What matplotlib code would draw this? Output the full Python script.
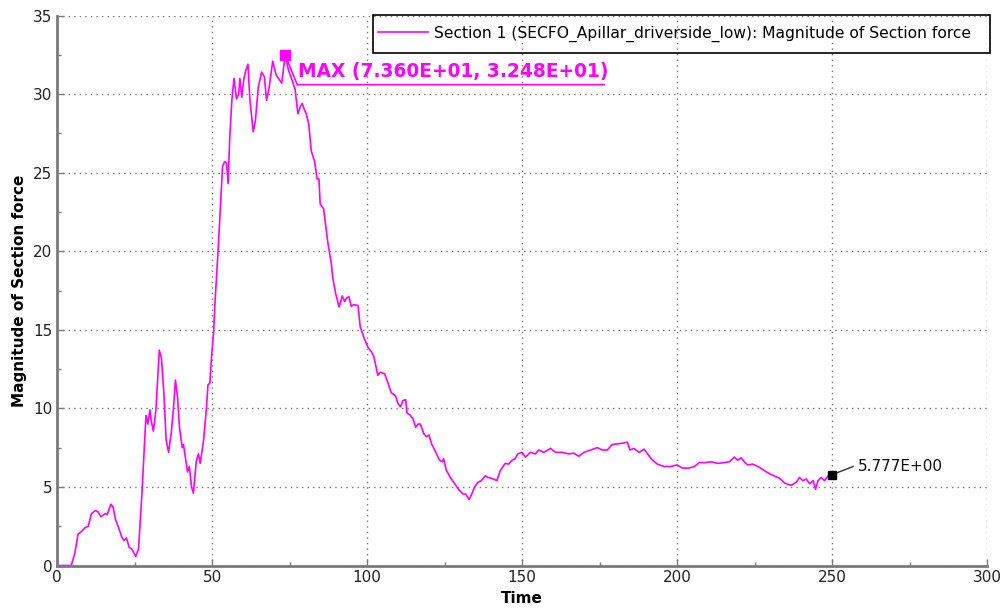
import matplotlib
matplotlib.use("Agg")
import matplotlib.pyplot as plt
from matplotlib.patches import Rectangle
from matplotlib.ticker import MultipleLocator

time = [0, 4.6, 5.7, 6.8, 8.1, 9.0, 10.1, 11.1, 12.4, 13.3, 14.2, 15.5, 16.2, 17.4, 18.1, 18.9,
        19.8, 20.9, 21.6, 22.4, 23.3, 24.1, 25.4, 26.3, 27.4, 28.7, 29.3, 30.0, 30.4, 31.1,
        31.9, 33.0, 33.7, 34.5, 35.2, 36.0, 36.9, 37.6, 38.2, 38.9, 39.5, 40.4, 40.8, 41.7,
        42.1, 42.7, 43.4, 44.0, 44.9, 45.6, 46.2, 47.3, 48.2, 48.7, 49.3, 49.9, 50.5, 50.9,
        51.9, 52.5, 53.4, 54.1, 54.7, 55.2, 55.7, 56.4, 57.1, 57.9, 58.6, 59.0, 59.6, 60.3,
        60.9, 61.6, 62.2, 63.3, 64.0, 64.9, 66.0, 66.9, 67.6, 68.5, 69.6, 70.7, 71.8, 72.5,
        73.6, 74.7, 75.8, 76.8, 77.7, 78.5, 79.1, 79.8, 80.4, 81.2, 82.0, 83.1, 83.9, 84.5,
        84.9, 86.0, 87.4, 88.5, 89.0, 89.9, 91.0, 91.4, 92.0, 92.8, 93.3, 94.2, 94.9, 95.7,
        97.1, 97.8, 99.2, 100.3, 101.4, 102.2, 103.5, 104.3, 105.7, 106.8, 107.8, 109.2,
        110.0, 110.8, 111.6, 112.5, 112.9, 113.8, 114.8, 115.7, 116.5, 117.2, 118.3, 119.1,
        120.0, 120.8, 122.2, 123.4, 124.3, 124.7, 125.6, 126.9, 128.3, 129.7, 131.0, 131.8,
        132.9, 133.7, 134.7, 135.8, 136.9, 138.1, 139.2, 140.8, 141.9, 143.0, 144.6, 145.7,
        146.8, 147.8, 148.6, 150.0, 151.1, 152.7, 154.3, 155.4, 157.0, 159.2, 160.8, 162.9,
        165.1, 166.7, 168.3, 170.0, 172.1, 174.3, 175.9, 177.5, 179.1, 181.3, 182.9, 184.0,
        184.8, 186.1, 187.8, 189.4, 190.5, 192.1, 193.7, 195.8, 198.0, 200.0, 201.8, 203.9,
        205.6, 207.2, 209.3, 211.0, 213.1, 215.3, 216.9, 218.5, 219.6, 220.7, 221.7, 222.8,
        224.4, 226.1, 227.7, 229.3, 231.4, 233.1, 234.7, 236.8, 238.5, 239.5, 240.6, 241.7,
        242.8, 243.9, 244.7, 245.5, 246.5, 247.6, 248.7, 250.0]
force = [0, 0, 0.74, 2.0, 2.2, 2.4, 2.5, 3.3, 3.5, 3.4, 3.1, 3.3, 3.25, 3.9, 3.7, 2.9,
         2.45, 1.8, 1.6, 1.75, 1.15, 1.05, 0.57, 1.05, 4.6, 9.55, 9.0, 9.9, 9.2, 8.55,
         9.9, 13.7, 13.2, 10.9, 8.0, 7.2, 8.5, 10.1, 11.8, 10.7, 8.8, 7.5, 7.7, 6.5,
         5.95, 6.3, 5.0, 4.6, 6.6, 7.1, 6.5, 8.0, 10.0, 11.5, 11.6, 13.4, 14.8, 16.5,
         19.85, 22.0, 25.4, 25.7, 25.6, 24.3, 27.1, 29.6, 31.0, 29.7, 30.0, 31.0, 29.8, 31.0,
         31.5, 31.9, 29.7, 27.6, 28.3, 30.4, 31.4, 31.1, 29.6, 30.5, 32.1, 31.2, 30.9, 30.7,
         32.48, 31.5, 30.9, 30.3, 28.75, 29.2, 29.4, 29.0, 28.75, 28.1, 26.4, 25.7, 24.6, 24.6,
         23.0, 22.7, 20.5, 19.2, 18.25, 17.3, 16.45, 16.7, 17.15, 16.8, 17.0, 17.1, 16.5, 16.6,
         16.55, 15.2, 14.4, 13.9, 13.6, 13.3, 12.1, 12.3, 12.2, 11.6, 11.0, 10.8,
         10.3, 10.1, 10.5, 10.55, 9.7, 9.6, 9.35, 8.8, 9.0, 9.0, 8.4, 8.2,
         8.3, 7.75, 7.2, 6.7, 6.6, 6.8, 6.05, 5.6, 5.2, 4.8, 4.55, 4.55,
         4.2, 4.5, 5.0, 5.3, 5.4, 5.7, 5.6, 5.5, 5.4, 6.05, 6.5, 6.45,
         6.7, 6.8, 7.1, 7.2, 6.9, 7.2, 7.1, 7.35, 7.2, 7.45, 7.2, 7.2,
         7.1, 7.15, 6.95, 7.2, 7.35, 7.5, 7.35, 7.35, 7.7, 7.75, 7.8, 7.85,
         7.35, 7.45, 7.2, 7.4, 7.1, 6.7, 6.45, 6.3, 6.3, 6.4, 6.2, 6.2,
         6.3, 6.55, 6.55, 6.6, 6.5, 6.55, 6.6, 6.9, 6.7, 6.85, 6.6, 6.4,
         6.45, 6.3, 6.1, 5.9, 5.7, 5.55, 5.25, 5.1, 5.3, 5.6, 5.4, 5.5,
         5.2, 5.4, 4.85, 5.4, 5.6, 5.4, 5.7, 5.777]

max_point = (73.6, 32.48)
max_label = "MAX (7.360E+01, 3.248E+01)"
last_point = (250.0, 5.777)
last_label = "5.777E+00"
legend_label = "Section 1 (SECFO_Apillar_driverside_low): Magnitude of Section force"
x_label = "Time"
y_label = "Magnitude of Section force"

plt.rcParams['font.family'] = ['DejaVu Sans']
W, H = 1006, 610
fig = plt.figure(figsize=(W / 100, H / 100), dpi=100)
ax = fig.add_axes([57 / W, 44.5 / H, 930 / W, 550 / H])

mag = "#ff00ff"
ax.plot(time, force, color=mag, lw=1.2, label=legend_label)
ax.set_xlim(0, 300)
ax.set_ylim(0, 35)
ax.xaxis.set_major_locator(MultipleLocator(50))
ax.xaxis.set_minor_locator(MultipleLocator(25))
ax.yaxis.set_major_locator(MultipleLocator(5))
ax.yaxis.set_minor_locator(MultipleLocator(2.5))
ax.grid(True, which='major', linestyle=(0, (1, 3)), color='#777777', lw=1.0)
ax.set_axisbelow(True)
for s in ['top', 'right']:
    ax.spines[s].set_visible(False)
for s in ['left', 'bottom']:
    ax.spines[s].set_color('#7a7a7a')
    ax.spines[s].set_linewidth(2)
ax.tick_params(which='both', direction='in', colors='#7a7a7a', labelcolor='#222222',
               labelsize=11)
ax.tick_params(which='major', length=5, width=1)
ax.tick_params(which='minor', length=3, width=1)
ax.set_xlabel(x_label, fontweight='bold', fontsize=11, labelpad=4)
ax.set_ylabel(y_label, fontweight='bold', fontsize=11, labelpad=4)

# MAX annotation
ax.plot([max_point[0]], [max_point[1]], marker='s', color=mag, ms=7, zorder=5)
ax.plot([max_point[0], 77.5, 176.5], [max_point[1], 30.6, 30.6], color=mag, lw=1.2)
ax.text(77.8, 30.8, max_label, color=mag, fontsize=13.4, fontweight='bold',
        ha='left', va='bottom')

# last point annotation
ax.plot([last_point[0]], [last_point[1]], marker='s', color='black', ms=6, zorder=5)
ax.plot([last_point[0], 256.8], [last_point[1], 6.3], color='#333333', lw=1)
ax.text(258.5, 6.3, last_label, color='#111111', fontsize=11, ha='left', va='center')

# legend (transparent, frame drawn separately)
leg = ax.legend(loc='center left', bbox_to_anchor=(378 / W, 1 - 34 / H),
                bbox_transform=fig.transFigure, fontsize=11.2, frameon=False,
                handlelength=3.2, borderpad=0, handletextpad=0.4, borderaxespad=0)
fig.patches.append(Rectangle((372.5 / W, 1 - 53.3 / H), 617.5 / W, 38.6 / H,
                             transform=fig.transFigure, fill=False, ec='black',
                             lw=1.2, zorder=10))

fig.savefig("out.png", dpi=100)
